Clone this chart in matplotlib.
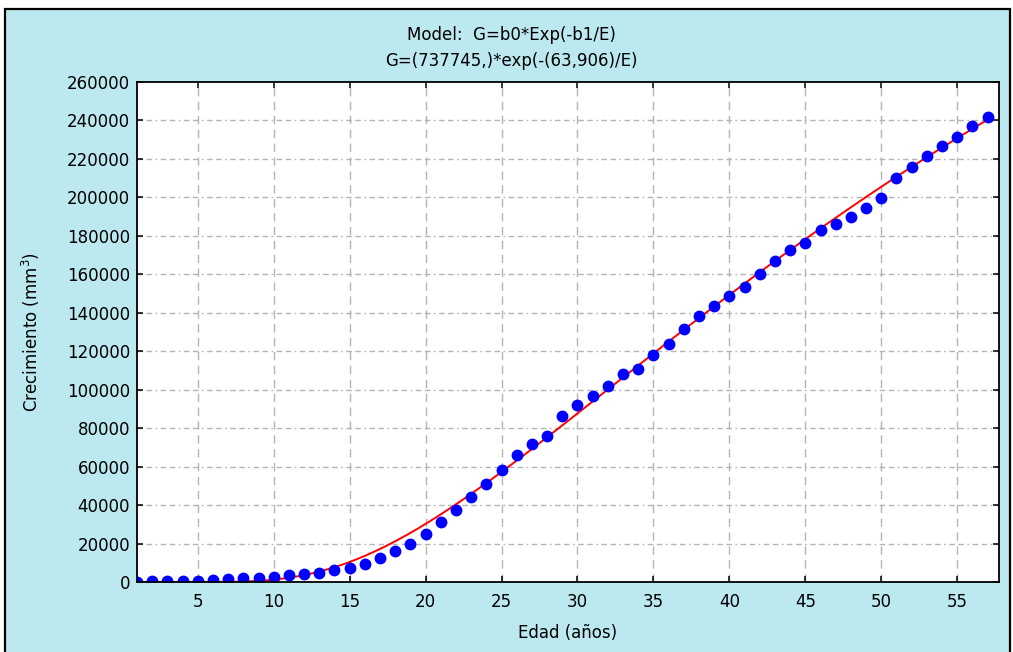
import numpy as np
import matplotlib
matplotlib.use("Agg")
import matplotlib.pyplot as plt
from matplotlib.patches import Rectangle

# ---- data ----
edad = list(range(1, 58))
crecimiento = [200, 300, 300, 400, 500, 900, 1500, 2100, 2100, 2800,
               3800, 4300, 4800, 6200, 7200, 9500, 12500, 16300, 19800, 24900,
               31000, 37300, 44200, 51100, 58000, 66000, 71600, 75900, 86300, 92000,
               96700, 101900, 108000, 110900, 118000, 123900, 131400, 138300, 143500, 148700,
               153200, 160000, 166900, 172500, 176400, 182900, 186300, 189800, 194300, 199800,
               210200, 215800, 221500, 226700, 231400, 237100, 241900]
b0 = 737745.0
b1 = 63.906
x_ticks = [5, 10, 15, 20, 25, 30, 35, 40, 45, 50, 55]
y_ticks = list(range(0, 260001, 20000))

title1 = "Model:  G=b0*Exp(-b1/E)"
title2 = "G=(737745,)*exp(-(63,906)/E)"
xlabel = "Edad (años)"
ylabel = "Crecimiento (mm$^3$)"

W, H = 1013, 652
fig = plt.figure(figsize=(W / 100, H / 100), dpi=100, facecolor="white")

bg = "#bce9ef"
fig.patches.append(Rectangle((5 / W, -0.05), (1010 - 5) / W, 1 - 9 / H + 0.05,
                             transform=fig.transFigure, facecolor=bg,
                             edgecolor="black", linewidth=1.6, zorder=-10))

ax = fig.add_axes([137 / W, 1 - 582 / H, 862 / W, 500 / H])
ax.set_facecolor("white")

# model curve
xc = np.linspace(1, 57, 400)
yc = b0 * np.exp(-b1 / xc)
ax.plot(xc, yc, color="#ff0000", linewidth=1.4, zorder=3)

ax.plot(edad, crecimiento, linestyle="none", marker="o", markersize=7.5,
        markerfacecolor="#0000ff", markeredgecolor="#0000ff", zorder=4)

ax.set_xlim(1, 57.75)
ax.set_ylim(0, 260000)
ax.set_xticks(x_ticks)
ax.set_yticks(y_ticks)
ax.set_yticklabels([str(v) for v in y_ticks])

for xv in x_ticks:
    ax.axvline(xv, color="#b4b4b4", linewidth=1.0, dashes=(6, 4), zorder=1)
for yv in y_ticks[1:-1]:
    ax.axhline(yv, color="#b4b4b4", linewidth=1.0, dashes=(4, 2.5, 4, 2.5, 1.2, 2.5), zorder=1)

for s in ax.spines.values():
    s.set_linewidth(1.3)
    s.set_color("black")
    s.set_zorder(5)

FS = 12
ax.tick_params(direction="in", length=4, width=1.1, top=True, right=True,
               labelsize=FS, colors="black")
ax.tick_params(axis="x", pad=8)
ax.tick_params(axis="y", pad=5)

ax.set_xlabel(xlabel, fontsize=FS)
ax.set_ylabel(ylabel, fontsize=FS)
ax.xaxis.label.set_va("center")
ax.yaxis.label.set_va("center")
ax.xaxis.set_label_coords(0.5, (582 - 633) / 500)
ax.yaxis.set_label_coords((31 - 137) / 862, 0.5)

fig.text(0.505, 1 - 35 / H, title1, ha="center", va="center", fontsize=FS)
fig.text(0.505, 1 - 61 / H, title2, ha="center", va="center", fontsize=FS)

fig.savefig("out.png", dpi=100, facecolor=fig.get_facecolor())
